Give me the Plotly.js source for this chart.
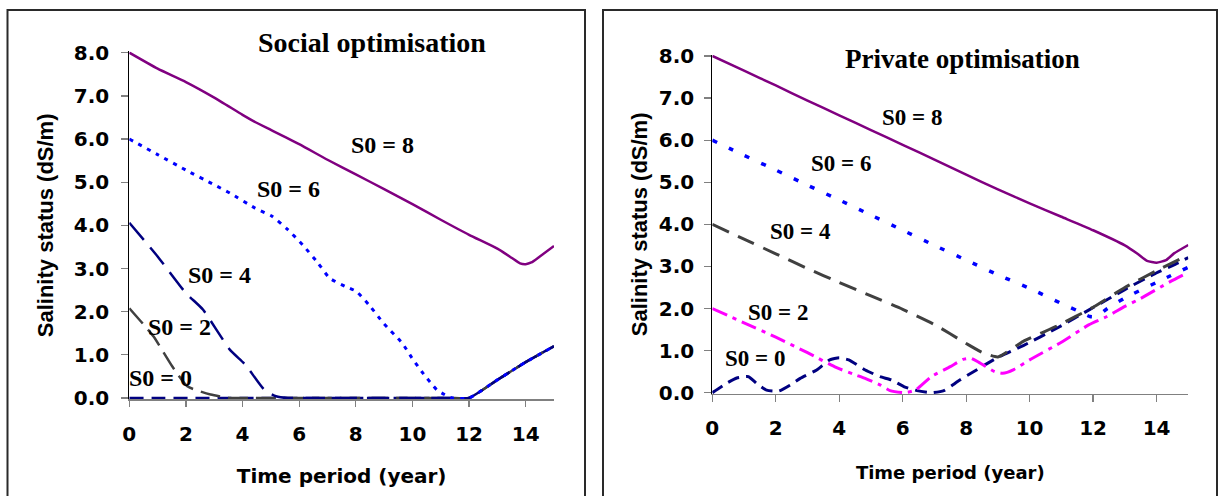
<!DOCTYPE html>
<html>
<head>
<meta charset="utf-8">
<script src="https://cdn.plot.ly/plotly-3.0.1.min.js"></script>
<style>
html,body{margin:0;padding:0;background:#ffffff;}
#chart{width:1222px;height:496px;}
</style>
</head>
<body>
<div id="chart"></div>
<script>
// ---------- tick labels ----------
const xTickVals = [0, 2, 4, 6, 8, 10, 12, 14];
const xTickText = ['0', '2', '4', '6', '8', '10', '12', '14'];
const yTickVals = [0, 1, 2, 3, 4, 5, 6, 7, 8];
const yTickText = ['0.0', '1.0', '2.0', '3.0', '4.0', '5.0', '6.0', '7.0', '8.0'];

// ---------- Social optimisation ----------
const socialX8 = [0, 1, 2, 3, 4, 4.4, 5, 6, 7, 8, 9, 10, 11, 12, 13, 13.5, 13.8, 14, 14.2, 14.5, 15];
const socialS8 = [8.0, 7.63, 7.32, 6.96, 6.56, 6.41, 6.21, 5.88, 5.52, 5.18, 4.84, 4.49, 4.13, 3.78, 3.46, 3.25, 3.12, 3.1, 3.14, 3.28, 3.52];
const socialX6 = [0, 1, 2, 3, 3.55, 4.44, 5.04, 5.6, 6.12, 6.66, 7.07, 7.61, 8.02, 8.5, 8.97, 9.64, 9.98, 10.32, 10.86, 11.13, 11.4, 12, 13, 14, 15];
const socialS6 = [6.0, 5.64, 5.28, 4.94, 4.75, 4.40, 4.21, 3.9, 3.55, 3.13, 2.78, 2.59, 2.47, 2.13, 1.74, 1.27, 0.93, 0.62, 0.19, 0.08, 0, 0, 0.42, 0.83, 1.2];
const socialX4 = [0, 1, 2, 2.6, 3.55, 4.1, 4.77, 5.18, 5.6, 6, 11.5, 12, 13, 14, 15];
const socialS4 = [4.06, 3.28, 2.43, 2.05, 1.12, 0.77, 0.19, 0.04, 0, 0, 0, 0, 0.42, 0.83, 1.2];
const socialX2 = [0, 0.85, 1.52, 2.05, 2.87, 3.55, 4, 11.5, 12, 13, 14, 15];
const socialS2 = [2.08, 1.43, 0.73, 0.27, 0.08, 0, 0, 0, 0, 0.42, 0.83, 1.2];
const socialX0 = [0, 11.5, 12, 13, 14, 15];
const socialS0 = [0, 0, 0, 0.42, 0.83, 1.2];

// ---------- Private optimisation ----------
const privateX8 = [0, 1, 2, 3, 4, 5, 6, 7, 8, 9, 10, 11, 12, 13, 13.4, 13.7, 14, 14.3, 14.55, 15];
const privateS8 = [8.0, 7.65, 7.3, 6.94, 6.59, 6.24, 5.89, 5.54, 5.18, 4.83, 4.5, 4.18, 3.86, 3.5, 3.3, 3.13, 3.09, 3.15, 3.31, 3.51];
const privateX6 = [0, 1, 2, 3, 4, 5, 6, 7, 8, 9, 10, 11, 11.5, 11.9, 12.1, 12.45, 13, 14, 15];
const privateS6 = [6.0, 5.64, 5.29, 4.93, 4.58, 4.22, 3.86, 3.5, 3.15, 2.8, 2.48, 2.12, 1.95, 1.81, 1.81, 2.0, 2.25, 2.62, 2.98];
const privateX4 = [0, 1, 2, 3, 4, 5, 6, 7, 8, 8.5, 9, 9.8, 10.9, 12, 13, 14, 15];
const privateS4 = [4.0, 3.65, 3.3, 2.95, 2.62, 2.3, 1.98, 1.62, 1.17, 0.96, 0.85, 1.22, 1.6, 2.03, 2.5, 2.9, 3.27];
const privateX2 = [0, 1, 2, 3, 3.9, 4.45, 4.85, 5.3, 5.6, 6.05, 6.4, 6.9, 7.5, 7.9, 8.15, 8.4, 8.9, 9.15, 9.5, 10, 11, 11.86, 12.44, 13, 13.5, 14.43, 15];
const privateS2 = [2.0, 1.66, 1.32, 0.95, 0.6, 0.44, 0.33, 0.18, 0.05, 0, 0.06, 0.38, 0.62, 0.79, 0.82, 0.72, 0.5, 0.46, 0.55, 0.78, 1.2, 1.61, 1.81, 2.05, 2.24, 2.64, 2.86];
const privateX0 = [0, 0.4, 0.77, 1.14, 1.4, 1.71, 2.1, 2.45, 2.77, 3.29, 3.7, 4, 4.3, 4.82, 5.29, 5.65, 6.05, 6.45, 6.9, 7.3, 7.8, 9, 9.8, 10.9, 11.9, 13, 13.9, 14.5, 15];
const privateS0 = [0, 0.2, 0.35, 0.38, 0.22, 0.06, 0.04, 0.18, 0.34, 0.54, 0.78, 0.83, 0.78, 0.54, 0.38, 0.3, 0.14, 0.05, 0, 0.05, 0.3, 0.84, 1.12, 1.55, 1.98, 2.45, 2.81, 3.02, 3.21];

// ---------- label texts ----------
const seriesLabels = ['S0 = 0', 'S0 = 2', 'S0 = 4', 'S0 = 6', 'S0 = 8'];
const panelTitles = ['Social optimisation', 'Private optimisation'];
const xTitle = 'Time period (year)';
const yTitle = 'Salinity status (dS/m)';

// ---------- styling ----------
const PURPLE = '#800080', BLUE = '#0000FF', NAVY = '#000080', GREY = '#404040', MAGENTA = '#FF00FF';

function tr(x, y, name, color, width, dash, xa, ya) {
  return {
    type: 'scatter', mode: 'lines', x: x, y: y, name: name,
    xaxis: xa, yaxis: ya, hoverinfo: 'skip',
    line: {color: color, width: width, dash: dash, shape: 'spline', smoothing: 0.5}
  };
}

const data = [
  tr(socialX0, socialS0, seriesLabels[0], NAVY, 2.5, '14px,8px', 'x', 'y'),
  tr(socialX2, socialS2, seriesLabels[1], GREY, 2.5, '20px,8px', 'x', 'y'),
  tr(socialX4, socialS4, seriesLabels[2], NAVY, 2.5, '22px,10px', 'x', 'y'),
  tr(socialX6, socialS6, seriesLabels[3], BLUE, 3, '4px,6px', 'x', 'y'),
  tr(socialX8, socialS8, seriesLabels[4], PURPLE, 2.5, 'solid', 'x', 'y'),

  tr(privateX0, privateS0, seriesLabels[0], NAVY, 3, '12px,7px', 'x2', 'y2'),
  tr(privateX2, privateS2, seriesLabels[1], MAGENTA, 3, '16px,6px,4px,6px', 'x2', 'y2'),
  tr(privateX4, privateS4, seriesLabels[2], GREY, 3, '18px,10px', 'x2', 'y2'),
  tr(privateX6, privateS6, seriesLabels[3], BLUE, 3.5, '5px,13px', 'x2', 'y2'),
  tr(privateX8, privateS8, seriesLabels[4], PURPLE, 2.5, 'solid', 'x2', 'y2')
];

const W = 1222, H = 496;
const tickFont = {family: 'DejaVu Sans', size: 20, weight: 'bold', color: '#000000'};

function xAxis(d0, d1, anchor, ticklen, labelStandoff, titleSize, standoff) {
  return {
    domain: [d0 / W, d1 / W], anchor: anchor, range: [0, 15], fixedrange: true,
    tickmode: 'array', tickvals: xTickVals, ticktext: xTickText,
    showgrid: false, zeroline: false, showline: true, linecolor: '#808080', linewidth: 1.5,
    ticks: 'outside', ticklen: ticklen, tickwidth: 1.3, tickcolor: '#808080',
    tickfont: tickFont, ticklabelstandoff: labelStandoff,
    title: {text: xTitle, standoff: standoff,
            font: {family: 'DejaVu Sans', size: titleSize, weight: 'bold', color: '#000000'}}
  };
}
function yAxis(top, bottom, anchor, labelStandoff, standoff) {
  return {
    domain: [1 - bottom / H, 1 - top / H], anchor: anchor, range: [-0.03, 8.03], fixedrange: true,
    tickmode: 'array', tickvals: yTickVals, ticktext: yTickText,
    showgrid: false, zeroline: false, showline: true, linecolor: '#000000', linewidth: 1,
    ticks: 'outside', ticklen: 7, tickwidth: 1.3, tickcolor: '#808080',
    tickfont: tickFont, ticklabelstandoff: labelStandoff,
    title: {text: yTitle, standoff: standoff,
            font: {family: 'Liberation Sans', size: 22, weight: 'bold', color: '#000000'}}
  };
}

const serifBold = (s) => ({family: 'Liberation Serif', size: s, weight: 'bold', color: '#000000'});

function label(text, x, y, xa, ya, size) {
  return {text: text, x: x, y: y, xref: xa, yref: ya, showarrow: false,
          xanchor: 'center', yanchor: 'middle', font: serifBold(size)};
}

const annotations = [
  {text: panelTitles[0], x: 371.5 / W, y: 1 - 42 / H, xref: 'paper', yref: 'paper', showarrow: false,
   xanchor: 'center', yanchor: 'middle', font: serifBold(28)},
  {text: panelTitles[1], x: 962 / W, y: 1 - 59 / H, xref: 'paper', yref: 'paper', showarrow: false,
   xanchor: 'center', yanchor: 'middle', font: serifBold(27)},

  label(seriesLabels[4], 8.95, 5.86, 'x', 'y', 24),
  label(seriesLabels[3], 5.62, 4.85, 'x', 'y', 24),
  label(seriesLabels[2], 3.2, 2.85, 'x', 'y', 24),
  label(seriesLabels[1], 1.79, 1.65, 'x', 'y', 24),
  label(seriesLabels[0], 1.10, 0.47, 'x', 'y', 24),

  label(seriesLabels[4], 6.3, 6.55, 'x2', 'y2', 23),
  label(seriesLabels[3], 4.07, 5.44, 'x2', 'y2', 23),
  label(seriesLabels[2], 2.78, 3.84, 'x2', 'y2', 23),
  label(seriesLabels[1], 2.07, 1.91, 'x2', 'y2', 23),
  label(seriesLabels[0], 1.33, 0.82, 'x2', 'y2', 23)
];

const shapes = [
  {type: 'rect', xref: 'paper', yref: 'paper', x0: 7.5 / W, x1: 585 / W, y0: -0.05, y1: 1 - 10 / H,
   line: {color: '#2a2a2a', width: 2}, fillcolor: 'rgba(0,0,0,0)', layer: 'below'},
  {type: 'rect', xref: 'paper', yref: 'paper', x0: 603 / W, x1: 1217 / W, y0: -0.05, y1: 1 - 10 / H,
   line: {color: '#2a2a2a', width: 2}, fillcolor: 'rgba(0,0,0,0)', layer: 'below'}
];

const layout = {
  width: W, height: H,
  margin: {l: 0, r: 0, t: 0, b: 0, pad: 0, autoexpand: false},
  paper_bgcolor: '#ffffff', plot_bgcolor: 'rgba(0,0,0,0)',
  showlegend: false, hovermode: false,
  font: {family: 'DejaVu Sans', color: '#000000'},
  xaxis: xAxis(129.3, 554, 'y', 6, 10, 20, 24),
  yaxis: yAxis(52.7 - 1.3, 398 + 1.3, 'x', 8, 14),
  xaxis2: xAxis(712.3, 1188.3, 'y2', 7, 9, 18, 27),
  yaxis2: yAxis(56 - 1.26, 392.7 + 1.26, 'x2', 6, 5),
  annotations: annotations,
  shapes: shapes
};

Plotly.newPlot('chart', data, layout, {displayModeBar: false, staticPlot: true});
</script>
</body>
</html>
